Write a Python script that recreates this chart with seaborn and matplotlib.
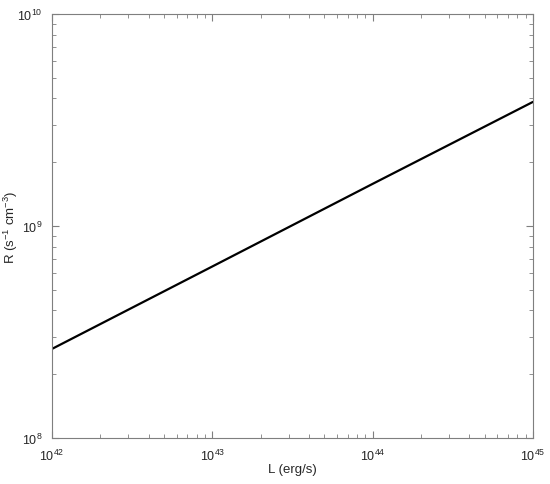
import matplotlib
matplotlib.use("Agg")
import matplotlib.pyplot as plt
import seaborn as sns
import pandas as pd

L_vals = [1e42, 1e43, 1e44, 1e45]
R_vals = [2.63e8, 6.44e8, 1.58e9, 3.85e9]

sns.set_style("ticks")
plt.rcParams['font.family'] = ['Liberation Sans', 'DejaVu Sans']
plt.rcParams['mathtext.fontset'] = 'custom'
plt.rcParams['mathtext.rm'] = 'Liberation Sans'
plt.rcParams['mathtext.it'] = 'Liberation Sans:italic'

df = pd.DataFrame({"L": L_vals, "R": R_vals})

fig = plt.figure(figsize=(5.5, 4.85), dpi=100)
ax = fig.add_axes([0.0945, 0.095, 0.8745, 0.874])
sns.lineplot(data=df, x="L", y="R", ax=ax, color="black", linewidth=1.6)
ax.set_xscale("log")
ax.set_yscale("log")
ax.set_xlim(1e42, 1e45)
ax.set_ylim(1e8, 1e10)
ax.set_xlabel("L (erg/s)", fontsize=9.5, color="#262626")
ax.set_ylabel(r"R (s$^{\mathregular{-1}}$ cm$^{\mathregular{-3}}$)", fontsize=9.5, color="#262626")
ax.yaxis.set_label_coords(-0.066, 0.5)
ax.xaxis.set_label_coords(0.5, -0.06)
grey = "#7f7f7f"
for s in ax.spines.values():
    s.set_visible(True)
    s.set_color(grey)
    s.set_linewidth(0.8)
ax.tick_params(which="both", direction="in", top=True, right=True, color=grey, labelsize=9, labelcolor="#262626")
ax.tick_params(axis="x", which="major", pad=7)
ax.tick_params(axis="y", which="major", pad=7)
ax.tick_params(which="major", length=5, width=0.8)
ax.tick_params(which="minor", length=3, width=0.6)
fig.savefig("out.png", dpi=100)
